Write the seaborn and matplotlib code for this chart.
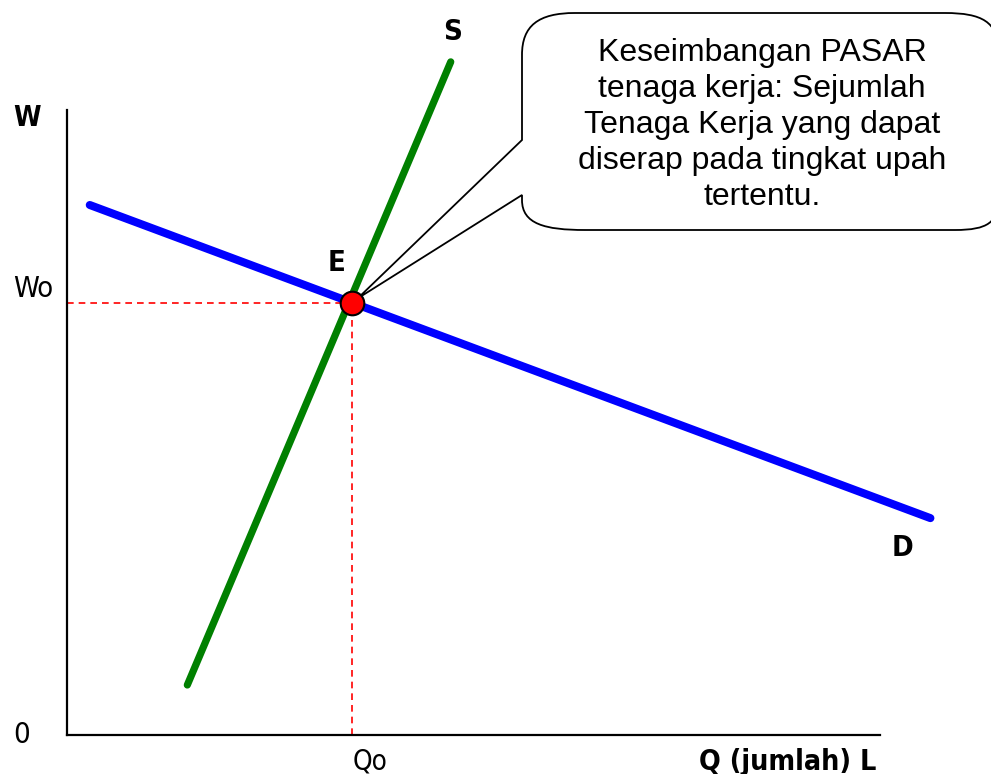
import numpy as np
import pandas as pd
import matplotlib.pyplot as plt
import seaborn as sns
from matplotlib.path import Path
from matplotlib.patches import PathPatch
from matplotlib.transforms import Affine2D

# supply / demand end points (Q, W) on a 0-100 scale
supply_q = [14.8, 47.2]
supply_w = [8.0, 107.7]
demand_q = [2.8, 106.2]
demand_w = [84.8, 34.7]
eq_q = 35.0
eq_w = 69.2

callout = ("Keseimbangan PASAR\ntenaga kerja: Sejumlah\nTenaga Kerja yang dapat\n"
           "diserap pada tingkat upah\ntertentu.")

sns.set_style("white")
plt.rcParams['text.color'] = 'black'
lbl_font = ['DejaVu Sans']

W, H = 991, 774
fig = plt.figure(figsize=(W / 100, H / 100), dpi=100)
ax = fig.add_axes([67 / W, (H - 735) / H, 813 / W, 625 / H])

df_s = pd.DataFrame({'Q': supply_q, 'W': supply_w})
df_d = pd.DataFrame({'Q': demand_q, 'W': demand_w})
sns.lineplot(data=df_s, x='Q', y='W', color='#008000', linewidth=5.2, ax=ax,
             clip_on=False, zorder=3)
sns.lineplot(data=df_d, x='Q', y='W', color='#0000ff', linewidth=5.8, ax=ax,
             clip_on=False, zorder=3)

# dashed guides to the axes
ax.plot([0, eq_q], [eq_w, eq_w], color='red', linestyle=(0, (4, 3)), linewidth=1.2, zorder=2)
ax.plot([eq_q, eq_q], [0, eq_w], color='red', linestyle=(0, (4, 3)), linewidth=1.2, zorder=2)
ax.plot([eq_q], [eq_w], 'o', color='red', markeredgecolor='black', markeredgewidth=1.5,
        markersize=17, zorder=5, clip_on=False)

ax.set_xlim(0, 100)
ax.set_ylim(0, 100)
ax.set_xticks([])
ax.set_yticks([])
ax.set_xlabel('')
ax.set_ylabel('')
sns.despine(ax=ax)
for s in ['left', 'bottom']:
    ax.spines[s].set_linewidth(1.6)
    ax.spines[s].set_color('black')

# labels
txt = dict(ha='center', va='center', clip_on=False, family=lbl_font,
           fontstretch='condensed', color='black')
ax.text(-4.9, 98.7, 'W', fontsize=20, fontweight='bold', **txt)
ax.text(-4.2, 71.4, 'Wo', fontsize=21, **txt)
ax.text(-5.6, 0.0, '0', fontsize=21, **txt)
ax.text(eq_q + 2.3, -4.3, 'Qo', fontsize=20, **txt)
ax.text(88.6, -4.3, 'Q (jumlah) L', fontsize=20.5, fontweight='bold', **txt)
ax.text(47.4, 112.5, 'S', fontsize=21, fontweight='bold', **txt)
ax.text(33.1, 75.5, 'E', fontsize=21, fontweight='bold', **txt)
ax.text(102.8, 29.9, 'D', fontsize=21, fontweight='bold', **txt)

# speech bubble, drawn in image pixels (y down)
fig.canvas.draw()
ex, ey = ax.transData.transform((eq_q, eq_w))
tip = (ex + 6, H - ey - 4)
verts = [(522, 140), tip, (522, 195), (522, 200),
         (522, 224), (545, 230), (585, 230),
         (955, 230),
         (988, 230), (998, 222), (998, 200),
         (998, 50),
         (998, 22), (982, 13), (945, 13),
         (575, 13),
         (538, 13), (522, 26), (522, 55),
         (522, 140)]
codes = [Path.MOVETO, Path.LINETO, Path.LINETO, Path.LINETO,
         Path.CURVE4, Path.CURVE4, Path.CURVE4,
         Path.LINETO,
         Path.CURVE4, Path.CURVE4, Path.CURVE4,
         Path.LINETO,
         Path.CURVE4, Path.CURVE4, Path.CURVE4,
         Path.LINETO,
         Path.CURVE4, Path.CURVE4, Path.CURVE4,
         Path.CLOSEPOLY]
pix = Affine2D().scale(1 / W, -1 / H).translate(0, 1) + fig.transFigure
bubble = PathPatch(Path(verts, codes), facecolor='white', edgecolor='black',
                   linewidth=1.3, transform=pix, clip_on=False, zorder=4)
ax.add_patch(bubble)
ax.text(762, 125, callout, transform=pix, ha='center', va='center',
        family=['Liberation Sans'], fontsize=23, linespacing=1.27, zorder=6,
        color='black')

fig.savefig('out.png', dpi=100)
